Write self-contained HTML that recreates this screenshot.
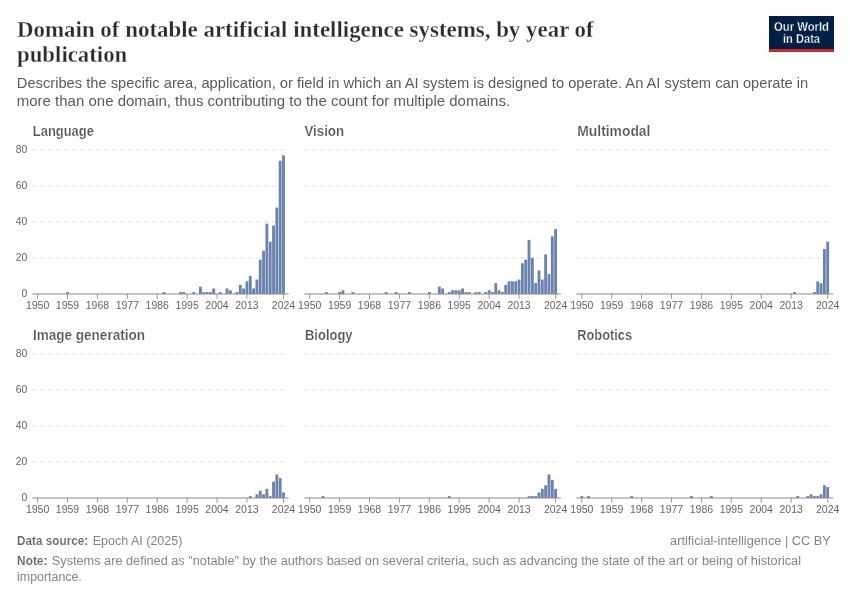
<!DOCTYPE html>
<html><head><meta charset="utf-8">
<style>
html,body{margin:0;padding:0;background:#fff;}
body{width:850px;height:600px;overflow:hidden;position:relative;}
svg{position:absolute;left:0;top:0;will-change:transform;}
text{font-family:"Liberation Sans",sans-serif;}
.ttl{font-family:"Liberation Serif",serif;font-weight:bold;font-size:24px;fill:#2b2b2b;stroke:#fff;stroke-width:0.3px;}
.sub{font-size:15px;fill:#5b5b5b;}
.pt{font-size:14.5px;font-weight:bold;fill:#555;stroke:#fff;stroke-width:0.2px;}
.yl{font-size:10.3px;fill:#666;text-anchor:end;}
.xl{font-size:10px;fill:#666;text-anchor:middle;}
.gl{stroke:#ddd;stroke-width:1;stroke-dasharray:4,4;}
.ax{stroke:#8a8a8a;stroke-width:1;}
.tk{stroke:#9a9a9a;stroke-width:1;}
.ft{font-size:12px;fill:#858585;}
.ftb{font-weight:bold;fill:#666;stroke:#fff;stroke-width:0.12px;}
.logo{font-size:12px;font-weight:bold;fill:#fff;stroke:#002147;stroke-width:0.3px;}
</style></head><body>
<svg width="850" height="600" viewBox="0 0 850 600">
<text x="17" y="36.8" class="ttl" textLength="576.7" lengthAdjust="spacingAndGlyphs">Domain of notable artificial intelligence systems, by year of</text>
<text x="17" y="62.3" class="ttl" textLength="110.3" lengthAdjust="spacingAndGlyphs">publication</text>
<text x="16.8" y="87.8" class="sub" textLength="791.5" lengthAdjust="spacingAndGlyphs">Describes the specific area, application, or field in which an AI system is designed to operate. An AI system can operate in</text>
<text x="16.8" y="105.6" class="sub" textLength="493.3" lengthAdjust="spacingAndGlyphs">more than one domain, thus contributing to the count for multiple domains.</text>
<rect x="769" y="16" width="65" height="36" fill="#002147"/>
<rect x="769" y="49" width="65" height="3" fill="#ce261e"/>
<text x="774" y="30.5" class="logo" textLength="55" lengthAdjust="spacingAndGlyphs">Our World</text>
<text x="783" y="42.5" class="logo" textLength="37" lengthAdjust="spacingAndGlyphs">in Data</text>
<text x="32.8" y="136.1" class="pt" textLength="61.1" lengthAdjust="spacingAndGlyphs">Language</text>
<line x1="32.2" x2="288.8" y1="257.91" y2="257.91" class="gl"/>
<text x="27.2" y="261.31" class="yl">20</text>
<line x1="32.2" x2="288.8" y1="221.92" y2="221.92" class="gl"/>
<text x="27.2" y="225.32" class="yl">40</text>
<line x1="32.2" x2="288.8" y1="185.94" y2="185.94" class="gl"/>
<text x="27.2" y="189.34" class="yl">60</text>
<line x1="32.2" x2="288.8" y1="149.95" y2="149.95" class="gl"/>
<text x="27.2" y="153.35" class="yl">80</text>
<text x="27.2" y="297.3" class="yl">0</text>
<rect x="66.08" y="292.1" width="2.85" height="1.9" fill="#6a83ae"/>
<rect x="162.45" y="292.1" width="2.85" height="1.9" fill="#6a83ae"/>
<rect x="179.06" y="292.1" width="2.85" height="1.9" fill="#6a83ae"/>
<rect x="182.39" y="292.1" width="2.85" height="1.9" fill="#6a83ae"/>
<rect x="192.35" y="292.1" width="2.85" height="1.9" fill="#6a83ae"/>
<rect x="199" y="286.7" width="2.85" height="7.3" fill="#6a83ae"/>
<rect x="202.32" y="292.1" width="2.85" height="1.9" fill="#6a83ae"/>
<rect x="205.65" y="292.1" width="2.85" height="1.9" fill="#6a83ae"/>
<rect x="208.97" y="292.1" width="2.85" height="1.9" fill="#6a83ae"/>
<rect x="212.29" y="288.5" width="2.85" height="5.5" fill="#6a83ae"/>
<rect x="218.94" y="292.1" width="2.85" height="1.9" fill="#6a83ae"/>
<rect x="225.58" y="288.5" width="2.85" height="5.5" fill="#6a83ae"/>
<rect x="228.91" y="290.3" width="2.85" height="3.7" fill="#6a83ae"/>
<rect x="235.55" y="292.1" width="2.85" height="1.9" fill="#6a83ae"/>
<rect x="238.88" y="284.9" width="2.85" height="9.1" fill="#6a83ae"/>
<rect x="242.2" y="288.5" width="2.85" height="5.5" fill="#6a83ae"/>
<rect x="245.52" y="281.3" width="2.85" height="12.7" fill="#6a83ae"/>
<rect x="248.85" y="275.91" width="2.85" height="18.09" fill="#6a83ae"/>
<rect x="252.17" y="288.5" width="2.85" height="5.5" fill="#6a83ae"/>
<rect x="255.49" y="279.5" width="2.85" height="14.5" fill="#6a83ae"/>
<rect x="258.81" y="259.71" width="2.85" height="34.29" fill="#6a83ae"/>
<rect x="262.14" y="250.71" width="2.85" height="43.29" fill="#6a83ae"/>
<rect x="265.46" y="223.72" width="2.85" height="70.28" fill="#6a83ae"/>
<rect x="268.78" y="241.72" width="2.85" height="52.28" fill="#6a83ae"/>
<rect x="272.11" y="225.52" width="2.85" height="68.48" fill="#6a83ae"/>
<rect x="275.43" y="207.53" width="2.85" height="86.47" fill="#6a83ae"/>
<rect x="278.75" y="160.74" width="2.85" height="133.26" fill="#6a83ae"/>
<rect x="282.07" y="155.35" width="2.85" height="138.65" fill="#6a83ae"/>
<line x1="32.2" x2="288.8" y1="294" y2="294" class="ax"/>
<line x1="37.6" x2="37.6" y1="293.5" y2="298.8" class="tk"/>
<text x="37.6" y="309" class="xl" textLength="23.3" lengthAdjust="spacingAndGlyphs">1950</text>
<line x1="67.51" x2="67.51" y1="293.5" y2="298.8" class="tk"/>
<text x="67.51" y="309" class="xl" textLength="23.3" lengthAdjust="spacingAndGlyphs">1959</text>
<line x1="97.41" x2="97.41" y1="293.5" y2="298.8" class="tk"/>
<text x="97.41" y="309" class="xl" textLength="23.3" lengthAdjust="spacingAndGlyphs">1968</text>
<line x1="127.32" x2="127.32" y1="293.5" y2="298.8" class="tk"/>
<text x="127.32" y="309" class="xl" textLength="23.3" lengthAdjust="spacingAndGlyphs">1977</text>
<line x1="157.23" x2="157.23" y1="293.5" y2="298.8" class="tk"/>
<text x="157.23" y="309" class="xl" textLength="23.3" lengthAdjust="spacingAndGlyphs">1986</text>
<line x1="187.13" x2="187.13" y1="293.5" y2="298.8" class="tk"/>
<text x="187.13" y="309" class="xl" textLength="23.3" lengthAdjust="spacingAndGlyphs">1995</text>
<line x1="217.04" x2="217.04" y1="293.5" y2="298.8" class="tk"/>
<text x="217.04" y="309" class="xl" textLength="23.3" lengthAdjust="spacingAndGlyphs">2004</text>
<line x1="246.95" x2="246.95" y1="293.5" y2="298.8" class="tk"/>
<text x="246.95" y="309" class="xl" textLength="23.3" lengthAdjust="spacingAndGlyphs">2013</text>
<line x1="283.5" x2="283.5" y1="293.5" y2="298.8" class="tk"/>
<text x="283.5" y="309" class="xl" textLength="23.3" lengthAdjust="spacingAndGlyphs">2024</text>
<text x="304.4" y="136.1" class="pt" textLength="39.7" lengthAdjust="spacingAndGlyphs">Vision</text>
<line x1="304.3" x2="560.9" y1="257.91" y2="257.91" class="gl"/>
<line x1="304.3" x2="560.9" y1="221.92" y2="221.92" class="gl"/>
<line x1="304.3" x2="560.9" y1="185.94" y2="185.94" class="gl"/>
<line x1="304.3" x2="560.9" y1="149.95" y2="149.95" class="gl"/>
<rect x="324.89" y="292.1" width="2.85" height="1.9" fill="#6a83ae"/>
<rect x="338.18" y="292.1" width="2.85" height="1.9" fill="#6a83ae"/>
<rect x="341.5" y="290.3" width="2.85" height="3.7" fill="#6a83ae"/>
<rect x="351.47" y="292.1" width="2.85" height="1.9" fill="#6a83ae"/>
<rect x="384.7" y="292.1" width="2.85" height="1.9" fill="#6a83ae"/>
<rect x="394.67" y="292.1" width="2.85" height="1.9" fill="#6a83ae"/>
<rect x="407.96" y="292.1" width="2.85" height="1.9" fill="#6a83ae"/>
<rect x="427.9" y="292.1" width="2.85" height="1.9" fill="#6a83ae"/>
<rect x="437.87" y="286.7" width="2.85" height="7.3" fill="#6a83ae"/>
<rect x="441.19" y="288.5" width="2.85" height="5.5" fill="#6a83ae"/>
<rect x="447.84" y="292.1" width="2.85" height="1.9" fill="#6a83ae"/>
<rect x="451.16" y="290.3" width="2.85" height="3.7" fill="#6a83ae"/>
<rect x="454.49" y="290.3" width="2.85" height="3.7" fill="#6a83ae"/>
<rect x="457.81" y="290.3" width="2.85" height="3.7" fill="#6a83ae"/>
<rect x="461.13" y="288.5" width="2.85" height="5.5" fill="#6a83ae"/>
<rect x="464.45" y="292.1" width="2.85" height="1.9" fill="#6a83ae"/>
<rect x="467.78" y="292.1" width="2.85" height="1.9" fill="#6a83ae"/>
<rect x="474.42" y="292.1" width="2.85" height="1.9" fill="#6a83ae"/>
<rect x="477.75" y="292.1" width="2.85" height="1.9" fill="#6a83ae"/>
<rect x="484.39" y="292.1" width="2.85" height="1.9" fill="#6a83ae"/>
<rect x="487.72" y="290.3" width="2.85" height="3.7" fill="#6a83ae"/>
<rect x="491.04" y="292.1" width="2.85" height="1.9" fill="#6a83ae"/>
<rect x="494.36" y="283.1" width="2.85" height="10.9" fill="#6a83ae"/>
<rect x="497.68" y="290.3" width="2.85" height="3.7" fill="#6a83ae"/>
<rect x="501.01" y="292.1" width="2.85" height="1.9" fill="#6a83ae"/>
<rect x="504.33" y="284.9" width="2.85" height="9.1" fill="#6a83ae"/>
<rect x="507.65" y="281.3" width="2.85" height="12.7" fill="#6a83ae"/>
<rect x="510.98" y="281.3" width="2.85" height="12.7" fill="#6a83ae"/>
<rect x="514.3" y="281.3" width="2.85" height="12.7" fill="#6a83ae"/>
<rect x="517.62" y="279.5" width="2.85" height="14.5" fill="#6a83ae"/>
<rect x="520.95" y="263.31" width="2.85" height="30.69" fill="#6a83ae"/>
<rect x="524.27" y="259.71" width="2.85" height="34.29" fill="#6a83ae"/>
<rect x="527.59" y="239.92" width="2.85" height="54.08" fill="#6a83ae"/>
<rect x="530.91" y="257.91" width="2.85" height="36.09" fill="#6a83ae"/>
<rect x="534.24" y="283.1" width="2.85" height="10.9" fill="#6a83ae"/>
<rect x="537.56" y="270.51" width="2.85" height="23.49" fill="#6a83ae"/>
<rect x="540.88" y="279.5" width="2.85" height="14.5" fill="#6a83ae"/>
<rect x="544.21" y="254.31" width="2.85" height="39.69" fill="#6a83ae"/>
<rect x="547.53" y="274.11" width="2.85" height="19.89" fill="#6a83ae"/>
<rect x="550.85" y="236.32" width="2.85" height="57.68" fill="#6a83ae"/>
<rect x="554.18" y="229.12" width="2.85" height="64.88" fill="#6a83ae"/>
<line x1="304.3" x2="560.9" y1="294" y2="294" class="ax"/>
<line x1="309.7" x2="309.7" y1="293.5" y2="298.8" class="tk"/>
<text x="309.7" y="309" class="xl" textLength="23.3" lengthAdjust="spacingAndGlyphs">1950</text>
<line x1="339.61" x2="339.61" y1="293.5" y2="298.8" class="tk"/>
<text x="339.61" y="309" class="xl" textLength="23.3" lengthAdjust="spacingAndGlyphs">1959</text>
<line x1="369.51" x2="369.51" y1="293.5" y2="298.8" class="tk"/>
<text x="369.51" y="309" class="xl" textLength="23.3" lengthAdjust="spacingAndGlyphs">1968</text>
<line x1="399.42" x2="399.42" y1="293.5" y2="298.8" class="tk"/>
<text x="399.42" y="309" class="xl" textLength="23.3" lengthAdjust="spacingAndGlyphs">1977</text>
<line x1="429.33" x2="429.33" y1="293.5" y2="298.8" class="tk"/>
<text x="429.33" y="309" class="xl" textLength="23.3" lengthAdjust="spacingAndGlyphs">1986</text>
<line x1="459.23" x2="459.23" y1="293.5" y2="298.8" class="tk"/>
<text x="459.23" y="309" class="xl" textLength="23.3" lengthAdjust="spacingAndGlyphs">1995</text>
<line x1="489.14" x2="489.14" y1="293.5" y2="298.8" class="tk"/>
<text x="489.14" y="309" class="xl" textLength="23.3" lengthAdjust="spacingAndGlyphs">2004</text>
<line x1="519.05" x2="519.05" y1="293.5" y2="298.8" class="tk"/>
<text x="519.05" y="309" class="xl" textLength="23.3" lengthAdjust="spacingAndGlyphs">2013</text>
<line x1="555.6" x2="555.6" y1="293.5" y2="298.8" class="tk"/>
<text x="555.6" y="309" class="xl" textLength="23.3" lengthAdjust="spacingAndGlyphs">2024</text>
<text x="577.3" y="136.1" class="pt" textLength="73.1" lengthAdjust="spacingAndGlyphs">Multimodal</text>
<line x1="576.4" x2="833" y1="257.91" y2="257.91" class="gl"/>
<line x1="576.4" x2="833" y1="221.92" y2="221.92" class="gl"/>
<line x1="576.4" x2="833" y1="185.94" y2="185.94" class="gl"/>
<line x1="576.4" x2="833" y1="149.95" y2="149.95" class="gl"/>
<rect x="793.05" y="292.1" width="2.85" height="1.9" fill="#6a83ae"/>
<rect x="812.98" y="292.1" width="2.85" height="1.9" fill="#6a83ae"/>
<rect x="816.31" y="281.3" width="2.85" height="12.7" fill="#6a83ae"/>
<rect x="819.63" y="283.1" width="2.85" height="10.9" fill="#6a83ae"/>
<rect x="822.95" y="248.91" width="2.85" height="45.09" fill="#6a83ae"/>
<rect x="826.28" y="241.72" width="2.85" height="52.28" fill="#6a83ae"/>
<line x1="576.4" x2="833" y1="294" y2="294" class="ax"/>
<line x1="581.8" x2="581.8" y1="293.5" y2="298.8" class="tk"/>
<text x="581.8" y="309" class="xl" textLength="23.3" lengthAdjust="spacingAndGlyphs">1950</text>
<line x1="611.71" x2="611.71" y1="293.5" y2="298.8" class="tk"/>
<text x="611.71" y="309" class="xl" textLength="23.3" lengthAdjust="spacingAndGlyphs">1959</text>
<line x1="641.61" x2="641.61" y1="293.5" y2="298.8" class="tk"/>
<text x="641.61" y="309" class="xl" textLength="23.3" lengthAdjust="spacingAndGlyphs">1968</text>
<line x1="671.52" x2="671.52" y1="293.5" y2="298.8" class="tk"/>
<text x="671.52" y="309" class="xl" textLength="23.3" lengthAdjust="spacingAndGlyphs">1977</text>
<line x1="701.43" x2="701.43" y1="293.5" y2="298.8" class="tk"/>
<text x="701.43" y="309" class="xl" textLength="23.3" lengthAdjust="spacingAndGlyphs">1986</text>
<line x1="731.33" x2="731.33" y1="293.5" y2="298.8" class="tk"/>
<text x="731.33" y="309" class="xl" textLength="23.3" lengthAdjust="spacingAndGlyphs">1995</text>
<line x1="761.24" x2="761.24" y1="293.5" y2="298.8" class="tk"/>
<text x="761.24" y="309" class="xl" textLength="23.3" lengthAdjust="spacingAndGlyphs">2004</text>
<line x1="791.15" x2="791.15" y1="293.5" y2="298.8" class="tk"/>
<text x="791.15" y="309" class="xl" textLength="23.3" lengthAdjust="spacingAndGlyphs">2013</text>
<line x1="827.7" x2="827.7" y1="293.5" y2="298.8" class="tk"/>
<text x="827.7" y="309" class="xl" textLength="23.3" lengthAdjust="spacingAndGlyphs">2024</text>
<text x="32.9" y="340.1" class="pt" textLength="112.1" lengthAdjust="spacingAndGlyphs">Image generation</text>
<line x1="32.2" x2="288.8" y1="461.91" y2="461.91" class="gl"/>
<text x="27.2" y="465.31" class="yl">20</text>
<line x1="32.2" x2="288.8" y1="425.92" y2="425.92" class="gl"/>
<text x="27.2" y="429.32" class="yl">40</text>
<line x1="32.2" x2="288.8" y1="389.94" y2="389.94" class="gl"/>
<text x="27.2" y="393.34" class="yl">60</text>
<line x1="32.2" x2="288.8" y1="353.95" y2="353.95" class="gl"/>
<text x="27.2" y="357.35" class="yl">80</text>
<text x="27.2" y="501.3" class="yl">0</text>
<rect x="248.85" y="496.1" width="2.85" height="1.9" fill="#6a83ae"/>
<rect x="255.49" y="494.3" width="2.85" height="3.7" fill="#6a83ae"/>
<rect x="258.81" y="490.7" width="2.85" height="7.3" fill="#6a83ae"/>
<rect x="262.14" y="494.3" width="2.85" height="3.7" fill="#6a83ae"/>
<rect x="265.46" y="488.9" width="2.85" height="9.1" fill="#6a83ae"/>
<rect x="268.78" y="496.1" width="2.85" height="1.9" fill="#6a83ae"/>
<rect x="272.11" y="481.71" width="2.85" height="16.29" fill="#6a83ae"/>
<rect x="275.43" y="474.51" width="2.85" height="23.49" fill="#6a83ae"/>
<rect x="278.75" y="478.11" width="2.85" height="19.89" fill="#6a83ae"/>
<rect x="282.07" y="492.5" width="2.85" height="5.5" fill="#6a83ae"/>
<line x1="32.2" x2="288.8" y1="498" y2="498" class="ax"/>
<line x1="37.6" x2="37.6" y1="497.5" y2="502.8" class="tk"/>
<text x="37.6" y="513" class="xl" textLength="23.3" lengthAdjust="spacingAndGlyphs">1950</text>
<line x1="67.51" x2="67.51" y1="497.5" y2="502.8" class="tk"/>
<text x="67.51" y="513" class="xl" textLength="23.3" lengthAdjust="spacingAndGlyphs">1959</text>
<line x1="97.41" x2="97.41" y1="497.5" y2="502.8" class="tk"/>
<text x="97.41" y="513" class="xl" textLength="23.3" lengthAdjust="spacingAndGlyphs">1968</text>
<line x1="127.32" x2="127.32" y1="497.5" y2="502.8" class="tk"/>
<text x="127.32" y="513" class="xl" textLength="23.3" lengthAdjust="spacingAndGlyphs">1977</text>
<line x1="157.23" x2="157.23" y1="497.5" y2="502.8" class="tk"/>
<text x="157.23" y="513" class="xl" textLength="23.3" lengthAdjust="spacingAndGlyphs">1986</text>
<line x1="187.13" x2="187.13" y1="497.5" y2="502.8" class="tk"/>
<text x="187.13" y="513" class="xl" textLength="23.3" lengthAdjust="spacingAndGlyphs">1995</text>
<line x1="217.04" x2="217.04" y1="497.5" y2="502.8" class="tk"/>
<text x="217.04" y="513" class="xl" textLength="23.3" lengthAdjust="spacingAndGlyphs">2004</text>
<line x1="246.95" x2="246.95" y1="497.5" y2="502.8" class="tk"/>
<text x="246.95" y="513" class="xl" textLength="23.3" lengthAdjust="spacingAndGlyphs">2013</text>
<line x1="283.5" x2="283.5" y1="497.5" y2="502.8" class="tk"/>
<text x="283.5" y="513" class="xl" textLength="23.3" lengthAdjust="spacingAndGlyphs">2024</text>
<text x="305" y="340.1" class="pt" textLength="47.6" lengthAdjust="spacingAndGlyphs">Biology</text>
<line x1="304.3" x2="560.9" y1="461.91" y2="461.91" class="gl"/>
<line x1="304.3" x2="560.9" y1="425.92" y2="425.92" class="gl"/>
<line x1="304.3" x2="560.9" y1="389.94" y2="389.94" class="gl"/>
<line x1="304.3" x2="560.9" y1="353.95" y2="353.95" class="gl"/>
<rect x="321.57" y="496.1" width="2.85" height="1.9" fill="#6a83ae"/>
<rect x="447.84" y="496.1" width="2.85" height="1.9" fill="#6a83ae"/>
<rect x="527.59" y="496.1" width="2.85" height="1.9" fill="#6a83ae"/>
<rect x="530.91" y="496.1" width="2.85" height="1.9" fill="#6a83ae"/>
<rect x="534.24" y="496.1" width="2.85" height="1.9" fill="#6a83ae"/>
<rect x="537.56" y="492.5" width="2.85" height="5.5" fill="#6a83ae"/>
<rect x="540.88" y="488.9" width="2.85" height="9.1" fill="#6a83ae"/>
<rect x="544.21" y="485.3" width="2.85" height="12.7" fill="#6a83ae"/>
<rect x="547.53" y="474.51" width="2.85" height="23.49" fill="#6a83ae"/>
<rect x="550.85" y="479.91" width="2.85" height="18.09" fill="#6a83ae"/>
<rect x="554.18" y="488.9" width="2.85" height="9.1" fill="#6a83ae"/>
<line x1="304.3" x2="560.9" y1="498" y2="498" class="ax"/>
<line x1="309.7" x2="309.7" y1="497.5" y2="502.8" class="tk"/>
<text x="309.7" y="513" class="xl" textLength="23.3" lengthAdjust="spacingAndGlyphs">1950</text>
<line x1="339.61" x2="339.61" y1="497.5" y2="502.8" class="tk"/>
<text x="339.61" y="513" class="xl" textLength="23.3" lengthAdjust="spacingAndGlyphs">1959</text>
<line x1="369.51" x2="369.51" y1="497.5" y2="502.8" class="tk"/>
<text x="369.51" y="513" class="xl" textLength="23.3" lengthAdjust="spacingAndGlyphs">1968</text>
<line x1="399.42" x2="399.42" y1="497.5" y2="502.8" class="tk"/>
<text x="399.42" y="513" class="xl" textLength="23.3" lengthAdjust="spacingAndGlyphs">1977</text>
<line x1="429.33" x2="429.33" y1="497.5" y2="502.8" class="tk"/>
<text x="429.33" y="513" class="xl" textLength="23.3" lengthAdjust="spacingAndGlyphs">1986</text>
<line x1="459.23" x2="459.23" y1="497.5" y2="502.8" class="tk"/>
<text x="459.23" y="513" class="xl" textLength="23.3" lengthAdjust="spacingAndGlyphs">1995</text>
<line x1="489.14" x2="489.14" y1="497.5" y2="502.8" class="tk"/>
<text x="489.14" y="513" class="xl" textLength="23.3" lengthAdjust="spacingAndGlyphs">2004</text>
<line x1="519.05" x2="519.05" y1="497.5" y2="502.8" class="tk"/>
<text x="519.05" y="513" class="xl" textLength="23.3" lengthAdjust="spacingAndGlyphs">2013</text>
<line x1="555.6" x2="555.6" y1="497.5" y2="502.8" class="tk"/>
<text x="555.6" y="513" class="xl" textLength="23.3" lengthAdjust="spacingAndGlyphs">2024</text>
<text x="577.3" y="340.1" class="pt" textLength="54.8" lengthAdjust="spacingAndGlyphs">Robotics</text>
<line x1="576.4" x2="833" y1="461.91" y2="461.91" class="gl"/>
<line x1="576.4" x2="833" y1="425.92" y2="425.92" class="gl"/>
<line x1="576.4" x2="833" y1="389.94" y2="389.94" class="gl"/>
<line x1="576.4" x2="833" y1="353.95" y2="353.95" class="gl"/>
<rect x="580.38" y="496.1" width="2.85" height="1.9" fill="#6a83ae"/>
<rect x="587.02" y="496.1" width="2.85" height="1.9" fill="#6a83ae"/>
<rect x="630.22" y="496.1" width="2.85" height="1.9" fill="#6a83ae"/>
<rect x="690.03" y="496.1" width="2.85" height="1.9" fill="#6a83ae"/>
<rect x="709.97" y="496.1" width="2.85" height="1.9" fill="#6a83ae"/>
<rect x="796.37" y="496.1" width="2.85" height="1.9" fill="#6a83ae"/>
<rect x="806.34" y="496.1" width="2.85" height="1.9" fill="#6a83ae"/>
<rect x="809.66" y="494.3" width="2.85" height="3.7" fill="#6a83ae"/>
<rect x="812.98" y="496.1" width="2.85" height="1.9" fill="#6a83ae"/>
<rect x="816.31" y="496.1" width="2.85" height="1.9" fill="#6a83ae"/>
<rect x="819.63" y="494.3" width="2.85" height="3.7" fill="#6a83ae"/>
<rect x="822.95" y="485.3" width="2.85" height="12.7" fill="#6a83ae"/>
<rect x="826.28" y="487.1" width="2.85" height="10.9" fill="#6a83ae"/>
<line x1="576.4" x2="833" y1="498" y2="498" class="ax"/>
<line x1="581.8" x2="581.8" y1="497.5" y2="502.8" class="tk"/>
<text x="581.8" y="513" class="xl" textLength="23.3" lengthAdjust="spacingAndGlyphs">1950</text>
<line x1="611.71" x2="611.71" y1="497.5" y2="502.8" class="tk"/>
<text x="611.71" y="513" class="xl" textLength="23.3" lengthAdjust="spacingAndGlyphs">1959</text>
<line x1="641.61" x2="641.61" y1="497.5" y2="502.8" class="tk"/>
<text x="641.61" y="513" class="xl" textLength="23.3" lengthAdjust="spacingAndGlyphs">1968</text>
<line x1="671.52" x2="671.52" y1="497.5" y2="502.8" class="tk"/>
<text x="671.52" y="513" class="xl" textLength="23.3" lengthAdjust="spacingAndGlyphs">1977</text>
<line x1="701.43" x2="701.43" y1="497.5" y2="502.8" class="tk"/>
<text x="701.43" y="513" class="xl" textLength="23.3" lengthAdjust="spacingAndGlyphs">1986</text>
<line x1="731.33" x2="731.33" y1="497.5" y2="502.8" class="tk"/>
<text x="731.33" y="513" class="xl" textLength="23.3" lengthAdjust="spacingAndGlyphs">1995</text>
<line x1="761.24" x2="761.24" y1="497.5" y2="502.8" class="tk"/>
<text x="761.24" y="513" class="xl" textLength="23.3" lengthAdjust="spacingAndGlyphs">2004</text>
<line x1="791.15" x2="791.15" y1="497.5" y2="502.8" class="tk"/>
<text x="791.15" y="513" class="xl" textLength="23.3" lengthAdjust="spacingAndGlyphs">2013</text>
<line x1="827.7" x2="827.7" y1="497.5" y2="502.8" class="tk"/>
<text x="827.7" y="513" class="xl" textLength="23.3" lengthAdjust="spacingAndGlyphs">2024</text>
<text x="17.1" y="545.1" class="ft ftb" textLength="71.1" lengthAdjust="spacingAndGlyphs">Data source:</text>
<text x="92.7" y="545.1" class="ft" textLength="89.7" lengthAdjust="spacingAndGlyphs">Epoch AI (2025)</text>
<text x="670.1" y="545.2" class="ft" textLength="160.7" lengthAdjust="spacingAndGlyphs">artificial-intelligence | CC BY</text>
<text x="17.1" y="565.2" class="ft ftb" textLength="30.3" lengthAdjust="spacingAndGlyphs">Note:</text>
<text x="51.8" y="565.2" class="ft" textLength="749.2" lengthAdjust="spacingAndGlyphs">Systems are defined as "notable" by the authors based on several criteria, such as advancing the state of the art or being of historical</text>
<text x="17.1" y="581.2" class="ft" textLength="64.7" lengthAdjust="spacingAndGlyphs">importance.</text>
</svg>
</body></html>
